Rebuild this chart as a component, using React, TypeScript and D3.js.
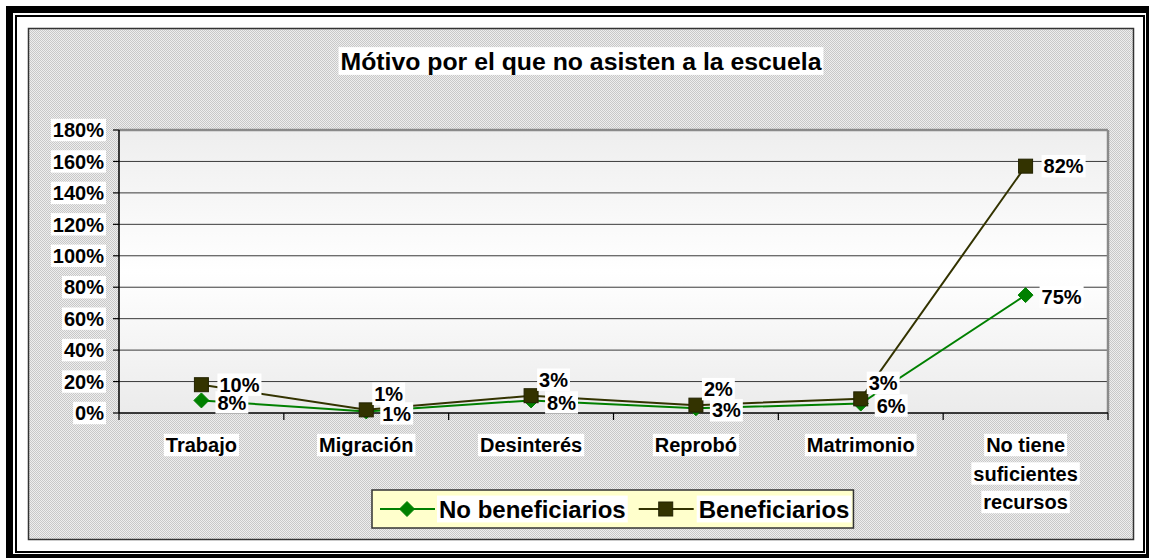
import * as d3 from "d3";
import { useMemo } from "react";

const categories = ["Trabajo", "Migración", "Desinterés", "Reprobó", "Matrimonio", "No tiene\nsuficientes\nrecursos"];
const noBeneficiarios = [8, 1, 8, 3, 6, 75];
const beneficiarios = [10, 1, 3, 2, 3, 82];
const seriesNames = ["No beneficiarios", "Beneficiarios"];
const yTicks = [0, 20, 40, 60, 80, 100, 120, 140, 160, 180];
const title = "Mótivo por el que no asisten a la escuela";

const FONT = "'Liberation Sans', Arial, Helvetica, sans-serif";
const GREEN = "#008000";
const OLIVE = "#333300";

let ctx: CanvasRenderingContext2D | null = null;
function measure(text: string, size: number) {
  if (!ctx) ctx = document.createElement("canvas").getContext("2d");
  if (!ctx) return text.length * size * 0.55;
  ctx.font = `bold ${size}px ${FONT}`;
  return ctx.measureText(text).width;
}

// text with the white background box Excel draws behind labels
function BoxText({ x, y, text, size, anchor = "start" }: { x: number; y: number; text: string; size: number; anchor?: "start" | "middle" | "end" }) {
  const w = measure(text, size);
  const left = anchor === "start" ? x : anchor === "middle" ? x - w / 2 : x - w;
  return (
    <g>
      <rect x={left - 2} y={y - size * 0.56} width={w + 4} height={size * 1.12} fill="#fff" />
      <text x={left} y={y + size * 0.36} fontSize={size} fontWeight="bold" fontFamily={FONT} fill="#000">
        {text}
      </text>
    </g>
  );
}

function Diamond({ x, y, r = 7.5 }: { x: number; y: number; r?: number }) {
  return <path d={`M${x},${y - r}L${x + r},${y}L${x},${y + r}L${x - r},${y}Z`} fill={GREEN} stroke={GREEN} strokeWidth={1} />;
}

function Square({ x, y, s = 14 }: { x: number; y: number; s?: number }) {
  return <rect x={x - s / 2} y={y - s / 2} width={s} height={s} fill={OLIVE} stroke="#222200" strokeWidth={1} />;
}

export default function App() {
  const width = 1149;
  const height = 558;
  const plot = { left: 119, right: 1108, top: 130, bottom: 413 };

  const x = d3.scaleBand<string>().domain(categories).range([plot.left, plot.right]).padding(0);
  const y = d3.scaleLinear().domain([0, 180]).range([plot.bottom, plot.top]);
  const cx = (c: string) => (x(c) ?? 0) + x.bandwidth() / 2;

  const stacked = useMemo(() => {
    const rows = categories.map((c, i) => ({ cat: c, nb: noBeneficiarios[i], b: beneficiarios[i] }));
    return d3.stack<{ cat: string; nb: number; b: number }>().keys(["nb", "b"])(rows);
  }, []);

  const line = d3
    .line<d3.SeriesPoint<{ cat: string; nb: number; b: number }>>()
    .x((d) => cx(d.data.cat))
    .y((d) => y(d[1]));

  const nbPts = stacked[0].map((d) => ({ x: cx(d.data.cat), y: y(d[1]), v: d.data.nb }));
  const bPts = stacked[1].map((d) => ({ x: cx(d.data.cat), y: y(d[1]), v: d.data.b }));

  const boundaries = [...categories.map((c) => x(c) ?? 0), plot.right];

  // legend layout
  const legSize = 24;
  const legX = 372;
  const legY = 490;
  const legH = 38;
  const legCy = legY + legH / 2;
  const item1Line = legX + 8;
  const item1Text = item1Line + 59;
  const item2Line = item1Text + measure(seriesNames[0], legSize) + 13;
  const item2Text = item2Line + 60;
  const legW = item2Text + measure(seriesNames[1], legSize) + 4 - legX;

  return (
    <svg width={width} height={height} style={{ position: "absolute", left: 0, top: 0, display: "block" }}>
      <defs>
        <pattern id="dither" width={2} height={2} patternUnits="userSpaceOnUse">
          <rect width={2} height={2} fill="#eeeeee" />
          <rect width={1} height={1} fill="#c8c8c8" />
          <rect x={1} y={1} width={1} height={1} fill="#c8c8c8" />
        </pattern>
        <linearGradient id="plotBg" x1="0" y1="0" x2="0" y2="1">
          <stop offset="0" stopColor="#eeeeee" />
          <stop offset="0.5" stopColor="#ffffff" />
          <stop offset="1" stopColor="#ebebeb" />
        </linearGradient>
      </defs>

      <rect width={width} height={height} fill="#fff" />
      {/* double black frame */}
      <rect x={9.5} y={9.5} width={1140} height={548} fill="none" stroke="#000" strokeWidth={7} />
      <rect x={16} y={16} width={1128} height={536} fill="none" stroke="#000" strokeWidth={2} />

      {/* chart area */}
      <rect x={28.5} y={28.5} width={1105} height={511} fill="url(#dither)" stroke="#333" strokeWidth={1.5} />

      {/* plot area */}
      <rect x={plot.left} y={plot.top} width={plot.right - plot.left} height={plot.bottom - plot.top} fill="url(#plotBg)" />
      {yTicks.slice(1, -1).map((t) => (
        <line key={t} x1={plot.left} x2={plot.right} y1={y(t)} y2={y(t)} stroke="#3a3a3a" strokeWidth={1} />
      ))}
      <line x1={plot.left} x2={plot.right} y1={plot.top} y2={plot.top} stroke="#8a8a8a" strokeWidth={2.5} />
      <line x1={plot.right} x2={plot.right} y1={plot.top} y2={plot.bottom} stroke="#8a8a8a" strokeWidth={2.5} />

      {/* y axis */}
      <line x1={plot.left} x2={plot.left} y1={plot.top} y2={plot.bottom} stroke="#000" strokeWidth={1.5} />
      {yTicks.map((t) => (
        <g key={t}>
          <line x1={plot.left - 6} x2={plot.left} y1={y(t)} y2={y(t)} stroke="#000" strokeWidth={1.2} />
          <BoxText x={104} y={y(t)} text={`${t}%`} size={20} anchor="end" />
        </g>
      ))}

      {/* x axis */}
      <line x1={plot.left} x2={plot.right} y1={plot.bottom} y2={plot.bottom} stroke="#000" strokeWidth={1.5} />
      {boundaries.map((b, i) => (
        <line key={i} x1={b} x2={b} y1={plot.bottom} y2={plot.bottom + 7} stroke="#000" strokeWidth={1.2} />
      ))}
      {categories.map((c) =>
        c.split("\n").map((ln, j) => <BoxText key={c + j} x={cx(c)} y={445 + j * 28.5} text={ln} size={20} anchor="middle" />),
      )}

      {/* series */}
      <path d={line(stacked[0]) ?? ""} fill="none" stroke={GREEN} strokeWidth={2} />
      {nbPts.map((p, i) => (
        <Diamond key={i} x={p.x} y={p.y} />
      ))}
      <path d={line(stacked[1]) ?? ""} fill="none" stroke={OLIVE} strokeWidth={2} />
      {bPts.map((p, i) => (
        <Square key={i} x={p.x} y={p.y} />
      ))}

      {/* data labels */}
      {nbPts.map((p, i) => (
        <BoxText key={i} x={p.x + 16} y={p.y + 2} text={`${p.v}%`} size={20} />
      ))}
      {bPts.map((p, i) => {
        const close = nbPts[i].y - p.y < 10;
        return <BoxText key={i} x={p.x + (close ? 8 : 18)} y={close ? p.y - 16 : p.y} text={`${p.v}%`} size={20} />;
      })}

      {/* title */}
      <BoxText x={581} y={61} text={title} size={24.8} anchor="middle" />

      {/* legend */}
      <rect x={legX} y={legY} width={legW} height={legH} fill="#ffffcc" stroke="#333" strokeWidth={1.5} />
      <line x1={item1Line} x2={item1Line + 55} y1={legCy} y2={legCy} stroke={GREEN} strokeWidth={2} />
      <Diamond x={item1Line + 27} y={legCy} />
      <BoxText x={item1Text} y={legCy} text={seriesNames[0]} size={legSize} />
      <line x1={item2Line} x2={item2Line + 55} y1={legCy} y2={legCy} stroke={OLIVE} strokeWidth={2} />
      <Square x={item2Line + 27} y={legCy} />
      <BoxText x={item2Text} y={legCy} text={seriesNames[1]} size={legSize} />
    </svg>
  );
}
